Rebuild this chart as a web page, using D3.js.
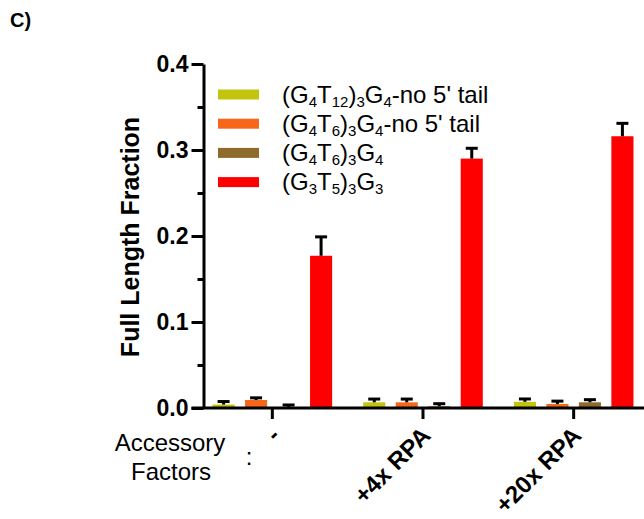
<!DOCTYPE html>
<html>
<head>
<meta charset="utf-8">
<script src="https://cdn.jsdelivr.net/npm/d3@7"></script>
<style>
  html, body { margin: 0; padding: 0; background: #fff; }
  svg { display: block; font-family: "Liberation Sans", Arial, sans-serif; }
</style>
</head>
<body>
<svg id="chart" width="644" height="519"></svg>
<script>
// ---- data ----
const categories = ["-", "+4x RPA", "+20x RPA"];
const seriesKeys = ["s1", "s2", "s3", "s4"];
const seriesColors = ["#c3c40e", "#f7671a", "#8e6a2c", "#ff0000"];
// legend labels: [text, kind] pairs
const seriesLabels = [
  [["(G", ""], ["4", "sub"], ["T", ""], ["12", "sub"], [")", ""], ["3", "sub"], ["G", ""], ["4", "sub"], ["-no 5' tail", ""]],
  [["(G", ""], ["4", "sub"], ["T", ""], ["6", "sub"], [")", ""], ["3", "sub"], ["G", ""], ["4", "sub"], ["-no 5' tail", ""]],
  [["(G", ""], ["4", "sub"], ["T", ""], ["6", "sub"], [")", ""], ["3", "sub"], ["G", ""], ["4", "sub"]],
  [["(G", ""], ["3", "sub"], ["T", ""], ["5", "sub"], [")", ""], ["3", "sub"], ["G", ""], ["3", "sub"]]
];
const values_s1 = [0.0040, 0.0066, 0.0072];
const values_s2 = [0.0093, 0.0066, 0.0047];
const values_s3 = [0.0010, 0.0020, 0.0066];
const values_s4 = [0.177, 0.290, 0.316];
const errors_s1 = [0.0035, 0.0038, 0.0033];
const errors_s2 = [0.0025, 0.0038, 0.0033];
const errors_s3 = [0.0025, 0.0030, 0.0031];
const errors_s4 = [0.022, 0.012, 0.015];
const majorTicks = [0, 0.1, 0.2, 0.3, 0.4];
const minorTicks = [0.05, 0.15, 0.25, 0.35];

const seriesValues = [values_s1, values_s2, values_s3, values_s4];
const seriesErrors = [errors_s1, errors_s2, errors_s3, errors_s4];

const svg = d3.select("#chart");

const y = d3.scaleLinear().domain([0, 0.4]).range([408, 64]);
const x0 = d3.scaleBand().domain(categories).range([197, 649]);
const x1 = d3.scaleBand().domain(seriesKeys).range([-65, 65]).paddingInner(0.32).paddingOuter(0.16);

const axisX = 203.5;

// bars
const rows = [];
categories.forEach((c, ci) => {
  seriesKeys.forEach((k, si) => {
    rows.push({ cat: c, key: k, si, v: seriesValues[si][ci], e: seriesErrors[si][ci] });
  });
});

const g = svg.append("g");
g.selectAll("rect.bar").data(rows).join("rect")
  .attr("class", "bar")
  .attr("x", d => x0(d.cat) + x0.bandwidth() / 2 + x1(d.key))
  .attr("width", x1.bandwidth())
  .attr("y", d => y(d.v))
  .attr("height", d => y(0) - y(d.v))
  .attr("fill", d => seriesColors[d.si]);

// error bars (upper only)
const cx = d => x0(d.cat) + x0.bandwidth() / 2 + x1(d.key) + x1.bandwidth() / 2;
const eb = g.selectAll("g.err").data(rows).join("g").attr("class", "err");
eb.append("line")
  .attr("x1", cx).attr("x2", cx)
  .attr("y1", d => y(d.v))
  .attr("y2", d => y(d.v + d.e))
  .attr("stroke", "#000").attr("stroke-width", 3);
eb.append("line")
  .attr("x1", d => cx(d) - 6)
  .attr("x2", d => cx(d) + 6)
  .attr("y1", d => y(d.v + d.e))
  .attr("y2", d => y(d.v + d.e))
  .attr("stroke", "#000").attr("stroke-width", 3);

// y axis
const yAxis = svg.append("g").attr("transform", `translate(${axisX},0)`)
  .call(d3.axisLeft(y).tickValues(majorTicks).tickFormat(d3.format(".1f")).tickSize(12).tickSizeOuter(0).tickPadding(3));
yAxis.select(".domain").attr("stroke-width", 3);
yAxis.selectAll(".tick line").attr("stroke-width", 3);
yAxis.selectAll(".tick text").attr("font-size", 23).attr("font-weight", "bold")
  .attr("font-family", "'Liberation Sans', Arial, sans-serif").attr("fill", "#000");

const yMinor = svg.append("g").attr("transform", `translate(${axisX},0)`)
  .call(d3.axisLeft(y).tickValues(minorTicks).tickFormat("").tickSize(6).tickSizeOuter(0));
yMinor.select(".domain").remove();
yMinor.selectAll(".tick line").attr("stroke-width", 3);

// x axis
const xAxis = svg.append("g").attr("transform", `translate(0,${y(0)})`)
  .call(d3.axisBottom(x0).tickSize(11).tickSizeOuter(0));
xAxis.select(".domain").remove();
xAxis.selectAll(".tick line").attr("stroke-width", 3);
xAxis.selectAll(".tick text")
  .attr("font-size", 24).attr("font-weight", "bold")
  .attr("font-family", "'Liberation Sans', Arial, sans-serif").attr("fill", "#000")
  .attr("text-anchor", "end")
  .attr("dy", null)
  .attr("y", 0)
  .attr("transform", "translate(9,29) rotate(-45)");
svg.append("line")
  .attr("x1", axisX - 12).attr("x2", 644)
  .attr("y1", y(0)).attr("y2", y(0))
  .attr("stroke", "#000").attr("stroke-width", 3);

// y title
svg.append("text")
  .attr("transform", "translate(139,237) rotate(-90)")
  .attr("text-anchor", "middle")
  .attr("font-size", 25).attr("font-weight", "bold")
  .text("Full Length Fraction");

// Accessory factors label
svg.append("text").attr("x", 170).attr("y", 451).attr("text-anchor", "middle")
  .attr("font-size", 24).text("Accessory");
svg.append("text").attr("x", 171).attr("y", 480).attr("text-anchor", "middle")
  .attr("font-size", 24).text("Factors");
svg.append("text").attr("x", 249).attr("y", 465).attr("text-anchor", "middle")
  .attr("font-size", 24).text(":");

// panel label
svg.append("text").attr("x", 10).attr("y", 27).attr("font-size", 20).attr("font-weight", "bold").text("C)");

// legend
const leg = svg.append("g");
seriesKeys.forEach((k, i) => {
  const cy = 94.5 + i * 29.2;
  leg.append("rect").attr("x", 218).attr("y", cy - 5).attr("width", 41).attr("height", 10)
    .attr("fill", seriesColors[i]);
  const t = leg.append("text").attr("x", 282).attr("y", cy + 8).attr("font-size", 24);
  seriesLabels[i].forEach(([s, type]) => {
    if (type === "sub") {
      t.append("tspan").attr("font-size", 15).attr("dy", 4).text(s);
    } else {
      t.append("tspan").attr("dy", -4).text(s);
    }
  });
  t.select("tspan").attr("dy", 0);
});
</script>
</body>
</html>
